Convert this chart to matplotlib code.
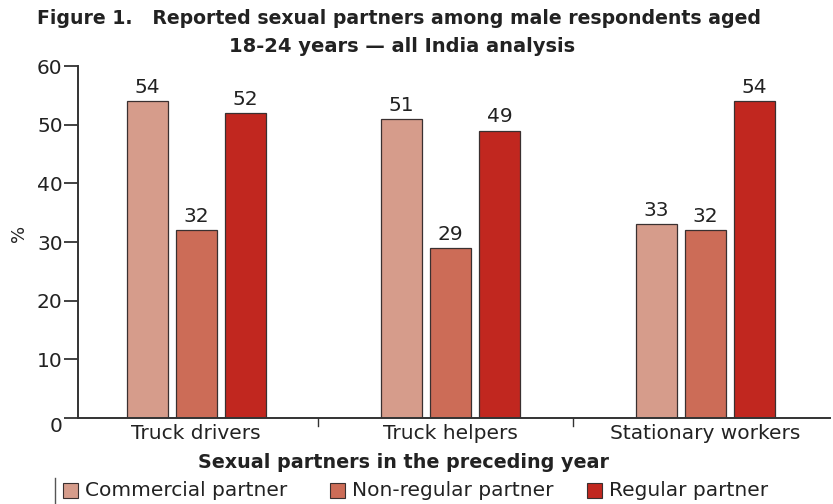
import matplotlib.pyplot as plt
from matplotlib.patches import Rectangle
from matplotlib.lines import Line2D
from matplotlib.transforms import ScaledTranslation

plt.rcParams['font.family'] = ['DejaVu Sans']

# data
groups = ['Truck drivers', 'Truck helpers', 'Stationary workers']
series = ['Commercial partner', 'Non-regular partner', 'Regular partner']
commercial = [54, 51, 33]
non_regular = [32, 29, 32]
regular = [52, 49, 54]
colors = ['#D69C8B', '#CC6C57', '#C1271F']

values = [commercial, non_regular, regular]

fig = plt.figure(figsize=(8.33, 5.04), dpi=100)
ax = fig.add_axes([78/833, 1 - 418/504, 752/833, 352/504])

width = 0.161
step = 0.1925
for k, (vals, col) in enumerate(zip(values, colors)):
    xs = [i + (k - 1) * step for i in range(len(groups))]
    ax.bar(xs, vals, width=width, color=col, edgecolor='#3a3030', linewidth=0.9)
    for x, v in zip(xs, vals):
        ax.text(x, v + 0.7, str(v), ha='center', va='bottom', fontsize=14.5, color='#222222')

ax.set_xlim(-0.464, 2.49)
ax.set_ylim(0, 60)
ax.set_yticks(range(0, 61, 10))
ax.set_yticklabels(['0', '10', '20', '30', '40', '50', '60'], fontsize=14.5, color='#222222')
ax.tick_params(axis='y', length=10, width=1.3, color='#333333', pad=1)
# the zero label sits a little lower than the axis line
zero = ax.get_yticklabels()[0]
zero.set_transform(zero.get_transform() + ScaledTranslation(0, -6/100, fig.dpi_scale_trans))
ax.set_xticks([0, 1, 2])
ax.set_xticklabels(groups, fontsize=14.5, color='#222222')
ax.tick_params(axis='x', length=0, pad=4)
for sep in [0.48, 1.48]:
    ax.plot([sep, sep], [0, -1.3], color='#333333', lw=1, clip_on=False)

for s in ['top', 'right']:
    ax.spines[s].set_visible(False)
for s in ['left', 'bottom']:
    ax.spines[s].set_linewidth(1.4)
    ax.spines[s].set_color('#333333')

ax.set_ylabel('%', fontsize=13, color='#222222')
ax.yaxis.set_label_coords(-50/752, 185/352)

fig.text(37/833, 1 - 18/504, 'Figure 1.   Reported sexual partners among male respondents aged',
         fontsize=13.6, fontweight='bold', ha='left', va='center', color='#222222')
fig.text(402/833, 1 - 47/504, '18-24 years \u2014 all India analysis',
         fontsize=14, fontweight='bold', ha='center', va='center', color='#222222')
fig.text(404/833, 1 - 462/504, 'Sexual partners in the preceding year',
         fontsize=13.8, fontweight='bold', ha='center', va='center', color='#222222')

# legend drawn row-wise
fig.add_artist(Line2D([55/833, 55/833], [0, 1 - 478/504], color='#555555', lw=1))
patch_x = [63, 330, 587]
for px, name, col in zip(patch_x, series, colors):
    fig.add_artist(Rectangle((px/833, 1 - 498/504), 15/833, 15/504, facecolor=col,
                             edgecolor='#3a3030', linewidth=0.8, transform=fig.transFigure))
    fig.text((px + 22)/833, 1 - 491/504, name, fontsize=14.5, ha='left', va='center', color='#222222')

fig.savefig('out.png', dpi=100)
